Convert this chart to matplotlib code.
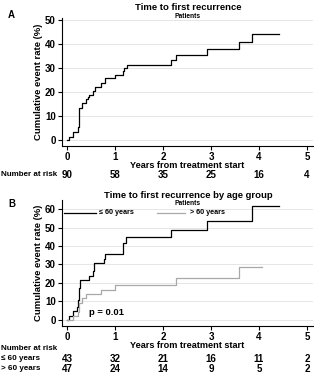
import matplotlib
matplotlib.use("Agg")
import matplotlib.pyplot as plt
from matplotlib import transforms

plt.rcParams['font.family'] = ['Liberation Sans', 'DejaVu Sans']
plt.rcParams['font.weight'] = 'bold'
plt.rcParams['axes.labelweight'] = 'bold'

# Panel A: all patients, cumulative event rate (%)
t_all = [0, 0.04, 0.125, 0.22, 0.24, 0.25, 0.31, 0.40, 0.43, 0.46, 0.55, 0.58,
         0.70, 0.80, 1.00, 1.17, 1.19, 1.25, 2.17, 2.27, 2.91, 3.59, 3.86, 4.42]
r_all = [0, 1.1, 3.3, 5.5, 8.8, 13.3, 15.5, 16.9, 17.9, 18.8, 20.2, 22.1,
         23.7, 25.8, 27.1, 28.9, 30.0, 31.2, 33.3, 35.4, 37.9, 40.8, 44.2, 44.2]
years = [0, 1, 2, 3, 4, 5]
risk_all = [90, 58, 35, 25, 16, 4]

# Panel B: by age group
t_young = [0, 0.04, 0.125, 0.21, 0.23, 0.24, 0.25, 0.27, 0.46, 0.55, 0.57,
           0.77, 0.80, 1.17, 1.23, 2.17, 2.91, 3.86, 4.42]
r_young = [0, 2.3, 4.7, 7.0, 10.5, 14.0, 17.2, 21.5, 23.8, 26.2, 30.7,
           33.2, 35.8, 41.6, 44.8, 48.8, 53.6, 61.7, 61.7]
t_old = [0, 0.125, 0.22, 0.24, 0.26, 0.31, 0.40, 0.70, 0.99, 2.27, 3.59, 4.07]
r_old = [0, 2.1, 4.3, 6.4, 9.0, 11.6, 14.0, 16.2, 19.0, 22.7, 28.8, 28.8]
risk_young = [43, 32, 21, 16, 11, 2]
risk_old = [47, 24, 14, 9, 5, 2]

fig = plt.figure(figsize=(3.27, 3.78), dpi=100)
W, H = 327, 378


def px_axes(left, top, right, bottom):
    return fig.add_axes([left / W, (H - bottom) / H, (right - left) / W, (bottom - top) / H])


def style(ax, ylim, yticks):
    ax.set_xlim(-0.104, 5.125)
    ax.set_ylim(*ylim)
    ax.spines['top'].set_visible(False)
    ax.spines['right'].set_visible(False)
    ax.spines['left'].set_linewidth(0.8)
    ax.spines['bottom'].set_linewidth(0.8)
    ax.set_xticks(years)
    ax.set_yticks(yticks)
    ax.tick_params(labelsize=7, length=3, width=0.8, pad=1.5)
    ax.tick_params(axis='x', pad=1)
    ax.yaxis.grid(True, color='#e6e6e6', lw=0.7)
    ax.set_axisbelow(True)
    ax.set_xlabel('Years from treatment start', fontsize=6.6, labelpad=-0.5)
    ax.set_ylabel('Cumulative event rate (%)', fontsize=6.8, labelpad=1.5)


# --- A ---
axA = px_axes(62, 18, 313, 146)
axA.step(t_all, r_all, where='post', color='black', lw=0.9)
style(axA, (-2.5, 50.8), [0, 10, 20, 30, 40, 50])
fig.text(8 / W, 1 - 15 / H, 'A', fontsize=7, va='center')
fig.text(188 / W, 1 - 8 / H, 'Time to first recurrence', fontsize=6.8, ha='center', va='center')
fig.text(188 / W, 1 - 16 / H, 'Patients', fontsize=4.8, ha='center', va='center')

trA = transforms.blended_transform_factory(axA.transData, fig.transFigure)
fig.text(1 / W, 1 - 174.5 / H, 'Number at risk', fontsize=5.8, va='center')
for x, n in zip(years, risk_all):
    axA.text(x, 1 - 174.5 / H, str(n), transform=trA, fontsize=7, ha='center', va='center')

# --- B ---
axB = px_axes(62, 200, 313, 326)
axB.step(t_young, r_young, where='post', color='black', lw=0.9)
axB.step(t_old, r_old, where='post', color='#a8a8a8', lw=0.9)
style(axB, (-3.4, 65), [0, 10, 20, 30, 40, 50, 60])
axB.text(0.45, 4, 'p = 0.01', fontsize=6.8, va='center')
fig.text(8 / W, 1 - 204 / H, 'B', fontsize=7, va='center')
fig.text(188 / W, 1 - 195 / H, 'Time to first recurrence by age group', fontsize=6.8,
         ha='center', va='center')
fig.text(188 / W, 1 - 203 / H, 'Patients', fontsize=4.8, ha='center', va='center')

# legend drawn in figure pixels under the subtitle
fig.add_artist(plt.Line2D([64 / W, 96 / W], [1 - 213 / H] * 2, color='black', lw=0.9))
fig.text(99 / W, 1 - 213 / H, '\u2264 60 years', fontsize=5.2, va='center')
fig.add_artist(plt.Line2D([157 / W, 185 / W], [1 - 213 / H] * 2, color='#a8a8a8', lw=0.9))
fig.text(190 / W, 1 - 213 / H, '> 60 years', fontsize=5.2, va='center')

trB = transforms.blended_transform_factory(axB.transData, fig.transFigure)
fig.text(1 / W, 1 - 348 / H, 'Number at risk', fontsize=5.8, va='center')
fig.text(1 / W, 1 - 358.5 / H, '\u2264 60 years', fontsize=5.8, va='center')
fig.text(1 / W, 1 - 368.5 / H, '> 60 years', fontsize=5.8, va='center')
for x, a, b in zip(years, risk_young, risk_old):
    axB.text(x, 1 - 358.5 / H, str(a), transform=trB, fontsize=7, ha='center', va='center')
    axB.text(x, 1 - 368.5 / H, str(b), transform=trB, fontsize=7, ha='center', va='center')

fig.savefig('out.png', dpi=100)
